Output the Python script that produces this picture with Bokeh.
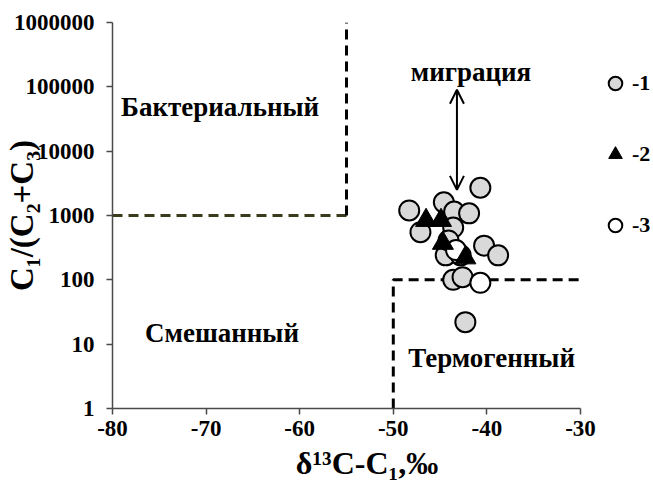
from bokeh.plotting import figure
from bokeh.models import (LogAxis, LinearAxis, FixedTicker, Range1d, Legend, LegendItem,
                          Arrow, OpenHead, LogScale)
from bokeh.core.properties import value
from bokeh.embed import file_html
from bokeh.resources import INLINE

# --- data -----------------------------------------------------------------
# group 1 (grey circles): delta13C of methane, C1/(C2+C3)
g1_d13c = [-40.7, -48.3, -44.6, -43.5, -41.9, -47.1, -43.6, -40.3, -38.8,
           -44.4, -42.8, -43.6, -42.6, -42.3, -44.1]
g1_ratio = [2700, 1200, 1600, 1150, 1080, 550, 650, 340, 240,
            240, 240, 100, 110, 22, 410]
# group 2 (black triangles)
g2_d13c = [-46.5, -44.9, -44.7, -42.3]
g2_ratio = [840, 840, 370, 220]
# group 3 (white circles)
g3_d13c = [-43.3, -40.7]
g3_ratio = [290, 90]

legend_labels = ["-1", "-2", "-3"]

# genetic field boundaries
bact_x = [-80, -55, -55]
bact_y = [1000, 1000, 1000000]
thermo_x = [-50, -50, -30]
thermo_y = [1, 100, 100]

# migration arrow
mig_x = -43.2
mig_y = [2500, 90000]

x_ticks = [-80, -70, -60, -50, -40, -30]
x_tick_labels = ["-80", "-70", "-60", "-50", "-40", "-30"]
y_ticks = [1, 10, 100, 1000, 10000, 100000, 1000000]
y_tick_labels = ["1", "10", "100", "1000", "10000", "100000", "1000000"]

FONT = value("Liberation Serif")
FONT_NAME = "Liberation Serif"
NBSP = "\u00a0"

# the frame runs on past -30 to leave room for the key; the axis itself stops at -30
p = figure(width=653, height=493, output_backend="svg", toolbar_location=None,
           x_range=Range1d(-80, -22.2), y_range=Range1d(1, 1000000),
           y_axis_type=None, x_axis_type=None,
           min_border_left=111, min_border_right=0, min_border_top=22,
           min_border_bottom=85)
p.y_scale = LogScale()
p.outline_line_color = None
p.xgrid.visible = False
p.ygrid.visible = False
p.background_fill_color = "white"
p.border_fill_color = "white"

xaxis = LinearAxis(ticker=FixedTicker(ticks=x_ticks), bounds=(x_ticks[0], x_ticks[-1]),
                   major_label_overrides=dict(zip(x_ticks, x_tick_labels)),
                   axis_label="δ¹³C-C₁,‰" + NBSP * 4)
yaxis = LogAxis(ticker=FixedTicker(ticks=y_ticks),
                major_label_overrides=dict(zip(y_ticks, y_tick_labels)),
                axis_label="C₁/(C₂+C₃)")
for ax in (xaxis, yaxis):
    ax.axis_line_color = "#4a4a4a"
    ax.axis_line_width = 1.5
    ax.major_tick_line_color = "#4a4a4a"
    ax.major_tick_line_width = 1.5
    ax.major_tick_in = 0
    ax.major_tick_out = 6
    ax.minor_tick_in = 0
    ax.minor_tick_out = 0
    ax.major_label_text_font = FONT_NAME
    ax.major_label_text_font_style = "bold"
    ax.major_label_text_font_size = "23px"
    ax.major_label_text_color = "black"
    ax.axis_label_text_font = FONT_NAME
    ax.axis_label_text_font_style = "bold"
    ax.axis_label_text_color = "black"
xaxis.axis_label_text_font_size = "32px"
yaxis.axis_label_text_font_size = "33px"
xaxis.major_label_standoff = 6
xaxis.axis_label_standoff = 6
yaxis.major_label_standoff = 12
yaxis.axis_label_standoff = -29
p.add_layout(xaxis, "below")
p.add_layout(yaxis, "left")

# field boundaries
p.line(bact_x[:2], bact_y[:2], line_color="#3a3a1c", line_width=3, line_dash="10 6")
p.line(bact_x[1:], bact_y[1:], line_color="black", line_width=3, line_dash="10 6")
p.line(thermo_x, thermo_y, line_color="black", line_width=3, line_dash="10 6")

# migration arrow
p.add_layout(Arrow(start=OpenHead(size=14, line_width=2), end=OpenHead(size=14, line_width=2),
                   x_start=mig_x, y_start=mig_y[0], x_end=mig_x, y_end=mig_y[1],
                   line_width=2, line_color="black"))

# field names
txt = dict(text_font=FONT, text_font_style="bold", text_font_size="27px",
           text_align="center", text_baseline="middle", text_color="black")
p.text(x=[-68.5], y=[48000], text=["Бактериальный"], **txt)
p.text(x=[-68.3], y=[15], text=["Смешанный"], **txt)
p.text(x=[-39.5], y=[6.2], text=["Термогенный"], **txt)
p.text(x=[-41.7], y=[170000], text=["миграция"], **txt)

# samples
r1 = p.scatter(g1_d13c, g1_ratio, marker="circle", size=20, fill_color="#d9d9d9",
               line_color="black", line_width=2)
r3 = p.scatter(g3_d13c, g3_ratio, marker="circle", size=20, fill_color="white",
               line_color="black", line_width=2)
r2 = p.scatter(g2_d13c, g2_ratio, marker="triangle", size=21, fill_color="black",
               line_color="black", line_width=1)

# key to the right of the axis end
legend = Legend(items=[LegendItem(label=legend_labels[0], renderers=[r1]),
                       LegendItem(label=legend_labels[1], renderers=[r2]),
                       LegendItem(label=legend_labels[2], renderers=[r3])],
                location=(486, 166), orientation="vertical",
                glyph_width=34, glyph_height=34, spacing=37, padding=0, margin=0,
                label_standoff=0, label_text_font=FONT_NAME, label_text_color="black",
                label_text_font_style="bold", label_text_font_size="22px",
                border_line_color=None, background_fill_alpha=0)
p.add_layout(legend, "center")

open("out.html", "w").write(file_html(p, INLINE))
